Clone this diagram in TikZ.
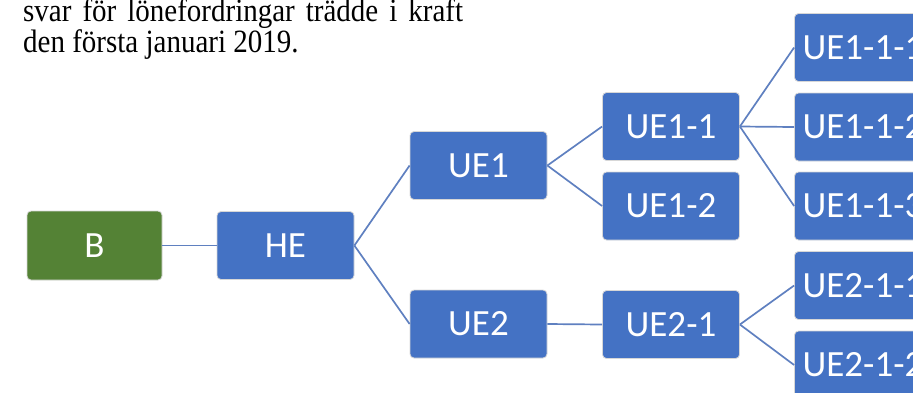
\documentclass[tikz,border=0pt]{standalone}
\usepackage{fontspec}
\usepackage{graphicx}
\setmainfont{Liberation Serif}
\newfontfamily\boxfont{Carlito}
\definecolor{boxblue}{HTML}{4472C4}
\definecolor{boxgreen}{HTML}{548235}
\definecolor{linkblue}{RGB}{95,128,192}
\definecolor{rimgray}{RGB}{215,215,215}
\begin{document}
\begin{tikzpicture}[x=1pt,y=-1pt,
  unit/.style={rectangle, rounded corners=4pt, fill=boxblue, draw=rimgray, line width=0.8pt,
    minimum width=137pt, minimum height=68pt, inner sep=0pt, text=white,
    font=\boxfont\fontsize{37}{42}\selectfont},
  rootunit/.style={unit, fill=boxgreen, minimum width=135pt, minimum height=69pt},
  link/.style={draw=linkblue, line width=1.7pt},
  bodytext/.style={anchor=base west, inner sep=0pt, font=\fontsize{29}{31}\selectfont}]
\useasboundingbox (0,0) rectangle (913,392);
\clip (0,0) rectangle (913,392);
\node[bodytext] (l1) at (23,21.7) {\scalebox{1}[1.12]{\hbox to 440pt{svar\hfill för\hfill lönefordringar\hfill trädde\hfill i\hfill kraft}}};
\node[bodytext] (l2) at (23,52.7) {\scalebox{1}[1.12]{den första januari 2019.}};
\node[rootunit] (b) at (94.5,245.5) {B};
\node[unit] (he) at (285.5,245.5) {HE};
\node[unit] (ue1) at (478.5,165.5) {UE1};
\node[unit] (ue2) at (478.5,324) {UE2};
\node[unit] (ue11) at (671,126.5) {UE1-1};
\node[unit] (ue12) at (671,206) {UE1-2};
\node[unit] (ue21) at (671,324.5) {UE2-1};
\node[unit] (ue111) at (863,47.5) {UE1-1-1};
\node[unit] (ue112) at (863,127) {UE1-1-2};
\node[unit] (ue113) at (863,206) {UE1-1-3};
\node[unit] (ue211) at (863,285.5) {UE2-1-1};
\node[unit] (ue212) at (863,365) {UE2-1-2};
\path[link] (b.east) -- (he.west);
\path[link] (he.east) -- (ue1.west);
\path[link] (he.east) -- (ue2.west);
\path[link] (ue1.east) -- (ue11.west);
\path[link] (ue1.east) -- (ue12.west);
\path[link] (ue2.east) -- (ue21.west);
\path[link] (ue11.east) -- (ue111.west);
\path[link] (ue11.east) -- (ue112.west);
\path[link] (ue11.east) -- (ue113.west);
\path[link] (ue21.east) -- (ue211.west);
\path[link] (ue21.east) -- (ue212.west);
\end{tikzpicture}
\end{document}
